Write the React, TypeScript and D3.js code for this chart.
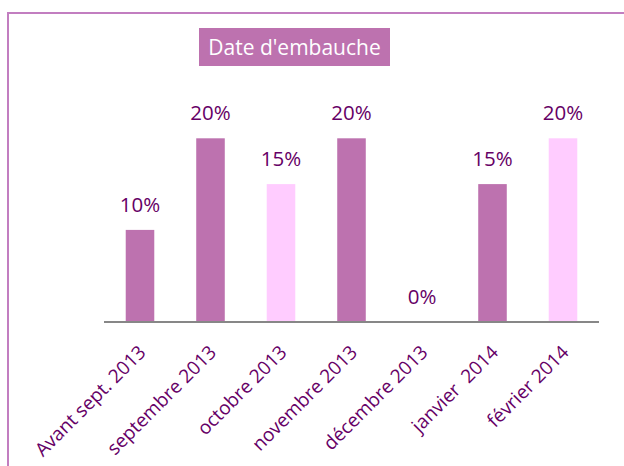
import React from "react";
import * as d3 from "d3";

const categories = [
  "Avant sept. 2013",
  "septembre 2013",
  "octobre 2013",
  "novembre 2013",
  "décembre 2013",
  "janvier  2014",
  "février 2014",
];
const values = [10, 20, 15, 20, 0, 15, 20];
const barColors = ["#BD72AF", "#BD72AF", "#FFCCFF", "#BD72AF", "#BD72AF", "#BD72AF", "#FFCCFF"];
const title = "Date d'embauche";

const W = 624;
const H = 466;
const FONT = "'Open Sans', sans-serif";
const TEXT = "#660066";

export default function App() {
  const x = d3.scaleBand<string>().domain(categories).range([104.75, 598.25]).paddingInner(0.595).paddingOuter(0.2975);
  const y = d3.scaleLinear().domain([0, 20]).range([321.5, 138.3]);
  const bw = x.bandwidth();
  return (
    <svg width={W} height={H} style={{ position: "absolute", left: 0, top: 0, background: "#fff" }}>
      <rect x={0} y={0} width={W} height={H} fill="#fff" />
      <rect x={8} y={13} width={800} height={700} fill="none" stroke="#C27EC0" strokeWidth={2} />
      <rect x={199} y={28} width={191} height={38} fill="#BD72AF" />
      <text x={294.5} y={55} textAnchor="middle" fill="#fff" fontFamily={FONT} fontSize={21}>
        {title}
      </text>
      {categories.map((c, i) => (
        <rect key={c} x={x(c)} y={y(values[i])} width={bw} height={y(0) - y(values[i])} fill={barColors[i]} />
      ))}
      {categories.map((c, i) => (
        <text
          key={"v" + c}
          x={(x(c) as number) + bw / 2}
          y={y(values[i]) - 18}
          textAnchor="middle"
          fill={TEXT}
          fontFamily={FONT}
          fontSize={20.5}
        >
          {values[i] + "%"}
        </text>
      ))}
      <line x1={104} x2={599} y1={y(0) + 0.5} y2={y(0) + 0.5} stroke="#878787" strokeWidth={2} />
      {categories.map((c) => {
        const cx = (x(c) as number) + bw / 2 + 7;
        const cy = y(0) + 32;
        return (
          <text
            key={"c" + c}
            transform={`translate(${cx},${cy}) rotate(-45)`}
            textAnchor="end"
            fill={TEXT}
            fontFamily={FONT}
            fontSize={19}
            style={{ whiteSpace: "pre" }}
          >
            {c}
          </text>
        );
      })}
    </svg>
  );
}
